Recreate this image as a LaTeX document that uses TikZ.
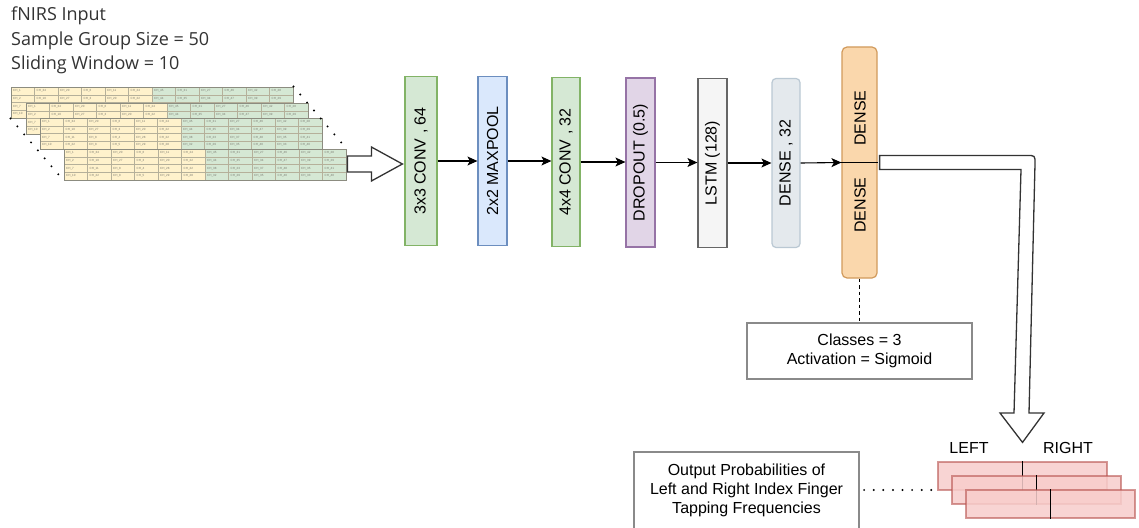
\documentclass[tikz,border=0pt]{standalone}
\usepackage{fontspec}
\setmainfont{Liberation Sans}
\newfontfamily\hdrfont{Open Sans}
\usetikzlibrary{calc,arrows.meta}

\definecolor{convfill}{HTML}{D5E8D4}
\definecolor{convdraw}{HTML}{82B366}
\definecolor{poolfill}{HTML}{DAE8FC}
\definecolor{pooldraw}{HTML}{6C8EBF}
\definecolor{dropfill}{HTML}{E1D5E7}
\definecolor{dropdraw}{HTML}{9673A6}
\definecolor{lstmfill}{HTML}{F5F5F5}
\definecolor{lstmdraw}{HTML}{666666}
\definecolor{densefill}{HTML}{E4E9ED}
\definecolor{densedraw}{HTML}{BAC8D3}
\definecolor{outfill}{HTML}{FAD7AC}
\definecolor{outdraw}{HTML}{D19A5C}
\definecolor{probfill}{HTML}{F8CECC}
\definecolor{probdraw}{HTML}{B85450}
\definecolor{cellyel}{HTML}{FFF2CC}
\definecolor{cellgrn}{HTML}{D5E8D4}
\definecolor{cellrule}{HTML}{B5B09A}
\definecolor{tabedge}{HTML}{8C8C80}
\definecolor{cellink}{HTML}{7A7A70}
\definecolor{hdrink}{HTML}{333333}
\definecolor{boxedge}{HTML}{8A8A8A}
\definecolor{hollowedge}{HTML}{333333}

% channel labels of the twelve columns (four rows each)
\newcommand\chlabels{%
{CH\_1,CH\_2,CH\_7,CH\_10},{CH\_34,CH\_10,CH\_11,CH\_22},%
{CH\_20,CH\_27,CH\_8,CH\_8},{CH\_6,CH\_3,CH\_4,CH\_5},%
{CH\_11,CH\_20,CH\_28,CH\_29},{CH\_24,CH\_22,CH\_22,CH\_28},%
{CH\_45,CH\_44,CH\_38,CH\_32},{CH\_31,CH\_35,CH\_23,CH\_29},%
{CH\_27,CH\_34,CH\_37,CH\_35},{CH\_46,CH\_47,CH\_48,CH\_40},%
{CH\_42,CH\_39,CH\_35,CH\_33},{CH\_28,CH\_29,CH\_41,CH\_40}}

% one fNIRS sample table: #1 x, #2 y (top left), #3 node name
\newcommand\chgrid[3]{%
  \fill[cellyel] (#1,#2) rectangle ++(141,31);
  \fill[cellgrn] (#1+141,#2) rectangle ++(141,31);
  \foreach \k in {1,...,11} \draw[cellrule, line width=0.5pt] (#1+\k*23.5,#2) -- ++(0,31);
  \foreach \k in {1,2,3} \draw[cellrule, line width=0.5pt] (#1,#2+\k*7.75) -- ++(282,0);
  \foreach \colitems [count=\ci from 0] in \chlabels {
    \foreach \chl [count=\ri from 0] in \colitems
      \node[celltext] at (#1+\ci*23.5+2,#2+\ri*7.75+3.9) {\chl};
  }
  \node[tablebox] (#3) at (#1+141,#2+15.5) {};
}

\begin{document}
\begin{tikzpicture}[x=1pt,y=-1pt,
  lbl/.style={font=\fontsize{16}{19}\selectfont},
  hdr/.style={font=\hdrfont\fontsize{18}{20}\selectfont, text=hdrink, inner sep=0pt, anchor=base west},
  celltext/.style={anchor=west, inner sep=0pt, font=\fontsize{3}{3}\selectfont, text=cellink},
  tablebox/.style={draw=tabedge, line width=0.9pt, minimum width=282, minimum height=31, inner sep=0pt},
  layerbox/.style={lbl, draw, line width=1.2pt, inner sep=0pt, minimum height=169},
  flow/.style={-{Stealth[length=10pt,width=9pt,inset=2.5pt]}, line width=1.1pt},
  hollow/.style={draw=hollowedge, line width=1.3pt, fill=white, line join=miter},
  dotline/.style={line width=2.2pt, line cap=round, dash pattern=on 0pt off 10.5pt},
  notebox/.style={lbl, draw=boxedge, line width=1.2pt, fill=white, align=center, inner sep=0pt},
  probbox/.style={fill=probfill, fill opacity=0.86, draw=probdraw, draw opacity=0.6, line width=1.2pt, minimum width=169, minimum height=28, inner sep=0pt},
  divider/.style={line width=1.2pt},
]
\useasboundingbox (0,0) rectangle (1139,527);
\fill[white] (0,0) rectangle (1139,527);

% input description
\node[hdr] (title) at (11,21) {fNIRS Input};
\node[hdr] (group) at (11,45.5) {Sample Group Size = 50};
\node[hdr] (window) at (11,69.5) {Sliding Window = 10};

% stacked input samples
\chgrid{11}{87}{tab1}
\chgrid{26}{103}{tab2}
\chgrid{40}{118}{tab3}
\chgrid{64}{149}{tab4}
\draw[dotline] (tab1.north east) -- (tab4.north east);
\draw[dotline] (tab1.south west) -- (tab4.south west);

% network layers
\node[layerbox, fill=convfill, draw=convdraw, minimum width=32] (conv1) at (421,161) {\rotatebox{90}{3x3 CONV , 64}};
\node[layerbox, fill=poolfill, draw=pooldraw, minimum width=29] (pool) at (492.5,161) {\rotatebox{90}{2x2 MAXPOOL}};
\node[layerbox, fill=convfill, draw=convdraw, minimum width=28] (conv2) at (566,162) {\rotatebox{90}{4x4 CONV , 32}};
\node[layerbox, fill=dropfill, draw=dropdraw, minimum width=29] (drop) at (640.5,162.5) {\rotatebox{90}{DROPOUT (0.5)}};
\node[layerbox, fill=lstmfill, draw=lstmdraw, minimum width=29] (lstm) at (712.5,163) {\rotatebox{90}{LSTM (128)}};
\node[layerbox, fill=densefill, draw=densedraw, minimum width=28, rounded corners=4pt] (dense) at (786,163) {\rotatebox{90}{DENSE , 32}};
\node[layerbox, fill=outfill, draw=outdraw, minimum width=35, minimum height=231, rounded corners=5pt] (out) at (859.5,162.5) {};
\draw[divider] (out.west) -- (out.east);
\node[lbl, inner sep=0pt] (outtop) at (860,118) {\rotatebox{90}{DENSE}};
\node[lbl, inner sep=0pt] (outbot) at (860,205) {\rotatebox{90}{DENSE}};

% layer connections
\draw[flow] (conv1.east) -- (pool.west |- conv1.east);
\draw[flow] (pool.east) -- (conv2.west |- pool.east);
\draw[flow] (conv2.east) -- (drop.west |- conv2.east);
\draw[flow] (drop.east) -- (lstm.west |- drop.east);
\draw[flow] (lstm.east) -- (dense.west |- lstm.east);
\draw[flow] (dense.east) -- (out.west);

% input arrow
\coordinate (ins) at ($(tab4.east)+(1,-0.5)$);
\coordinate (intip) at ($(conv1.west |- ins)+(-2,0)$);
\draw[hollow] ($(ins)+(0,-8)$) -- ($(intip)+(-31,-8)$) -- ($(intip)+(-31,-17)$) -- (intip)
  -- ($(intip)+(-31,17)$) -- ($(intip)+(-31,8)$) -- ($(ins)+(0,8)$) -- cycle;

% output layer settings
\node[notebox, minimum width=225, minimum height=56] (cfg) at (859.5,351) {Classes = 3\\Activation = Sigmoid};
\draw[line width=1.2pt, dash pattern=on 3.5pt off 3pt] (out.south) -- (cfg.north);

% output probabilities, stacked back to front
\node[probbox] (pr1) at (1022.5,476) {};
\draw[divider] (pr1.north) -- (pr1.south);
\node[probbox] (pr2) at (1036.5,490) {};
\draw[divider] (pr2.north) -- (pr2.south);
\node[probbox] (pr3) at (1050.5,504) {};
\draw[divider] (pr3.north) -- (pr3.south);
\node[lbl, inner sep=0pt] (left) at (969,448) {LEFT};
\node[lbl, inner sep=0pt] (right) at (1068,448) {RIGHT};

% output arrow from the dense layer down to the probabilities
\coordinate (outs) at ($(out.east)+(2,0)$);
\coordinate (outtip) at ($(pr1.north)+(0,-19)$);
\draw[hollow] ($(outs)+(0,-7)$) -- (1027,155.5) .. controls (1035,155.5) .. (1035,163.5)
  -- (1029,413) -- (1044,413) -- (outtip) -- (1000,413) -- (1014,413) -- (1021,169.5)
  -- ($(outs)+(0,7)$) -- cycle;

% description of the output
\node[notebox, minimum width=225, minimum height=80] (desc) at (746.5,492) {};
\node[lbl, align=center, inner sep=0pt] (desctext) at (746.5,490) {Output Probabilities of\\Left and Right Index Finger\\Tapping Frequencies};
\draw[dotline, dash pattern=on 0pt off 9.6pt, shorten <=4.5pt, shorten >=5pt] (desc.east |- desctext) -- (pr1.west |- desctext);
\end{tikzpicture}
\end{document}
